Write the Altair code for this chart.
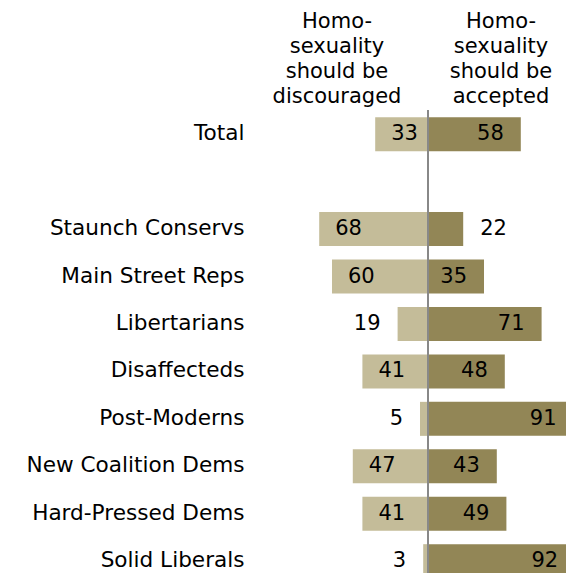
import altair as alt
import pandas as pd

categories = ["Total", "Staunch Conservs", "Main Street Reps", "Libertarians",
              "Disaffecteds", "Post-Moderns", "New Coalition Dems",
              "Hard-Pressed Dems", "Solid Liberals"]
discouraged = [33, 68, 60, 19, 41, 5, 47, 41, 3]
accepted = [58, 22, 35, 71, 48, 91, 43, 49, 92]
headers = ["Homo-\nsexuality\nshould be\ndiscouraged",
           "Homo-\nsexuality\nshould be\naccepted"]

rows = []
for c, d, a in zip(categories, discouraged, accepted):
    rows.append({"group": c, "side": "discouraged", "value": d, "signed": -d})
    rows.append({"group": c, "side": "accepted", "value": a, "signed": a})
df = pd.DataFrame(rows)

y_domain = [categories[0], " "] + categories[1:]
FONT = "DejaVu Sans"
FS = 21
W, H = 316, 462
TOP = 102.5
RANGE_H = 474.4
LIGHT, DARK = "#c4bc99", "#928656"

xs = alt.Scale(domain=[-111.25, 86.25], nice=False, zero=False)
ys = alt.Scale(domain=y_domain, range=[0, RANGE_H], paddingInner=0.283, paddingOuter=0.1415)

base = alt.Chart(df)

bars = base.mark_bar().encode(
    x=alt.X("signed:Q", scale=xs, axis=None, stack=None),
    x2=alt.datum(0),
    y=alt.Y("group:N", scale=ys, sort=y_domain,
            axis=alt.Axis(title=None, ticks=False, domain=False,
                          labelFontSize=21.6, labelFont=FONT, labelColor="black",
                          labelPadding=6, labelLimit=400)),
    color=alt.Color("side:N", scale=alt.Scale(domain=["discouraged", "accepted"],
                                              range=[LIGHT, DARK]), legend=None),
)

def labels(side, inside, align, dx):
    cond = f"datum.side == '{side}' && datum.value {'>=' if inside else '<'} 30"
    return base.transform_filter(cond).mark_text(
        align=align, baseline="middle", dx=dx, fontSize=FS, font=FONT, color="black"
    ).encode(
        x=alt.X("signed:Q", scale=xs),
        y=alt.Y("group:N", scale=ys, sort=y_domain),
        text="value:Q",
    )

rule = base.transform_calculate(zero="0").mark_rule(
    color="#888888", strokeWidth=2
).encode(x=alt.X("zero:Q", scale=xs), y=alt.value(0), y2=alt.value(RANGE_H))

def header(i, px):
    return alt.Chart(pd.DataFrame({"t": [headers[i]]})).mark_text(
        align="center", baseline="alphabetic", lineBreak="\n", lineHeight=25,
        fontSize=FS, font=FONT, color="black"
    ).encode(x=alt.value(px), y=alt.value(28.3 - 8 - TOP), text="t:N")

chart = alt.layer(
    bars,
    labels("discouraged", True, "left", 16),
    labels("discouraged", False, "right", -17),
    labels("accepted", True, "right", -17),
    labels("accepted", False, "left", 17),
    rule,
    header(0, 87),
    header(1, 251),
).properties(
    width=W, height=H,
    autosize=alt.AutoSizeParams(type="none"),
    padding={"left": 242, "top": TOP, "right": 0, "bottom": 0},
).configure_view(stroke=None)

chart.save("out.html", embed_options={"renderer": "svg", "actions": False})
